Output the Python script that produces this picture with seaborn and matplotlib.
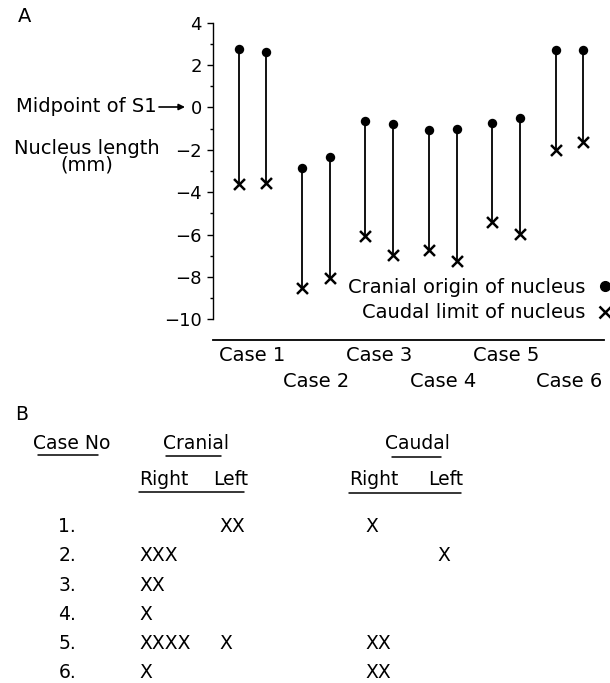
import numpy as np
import pandas as pd
import seaborn as sns
import matplotlib.pyplot as plt
from matplotlib.lines import Line2D

# ---- data (panel A) ----
case_no = [1, 1, 2, 2, 3, 3, 4, 4, 5, 5, 6, 6]
side = [0, 1, 0, 1, 0, 1, 0, 1, 0, 1, 0, 1]
cranial = [2.75, 2.6, -2.84, -2.33, -0.65, -0.76, -1.08, -1.03, -0.72, -0.51, 2.71, 2.71]
caudal = [-3.6, -3.55, -8.5, -8.06, -6.05, -6.96, -6.72, -7.27, -5.39, -5.98, -2.0, -1.61]
case_labels = ["Case 1", "Case 2", "Case 3", "Case 4", "Case 5", "Case 6"]
y_ticks = [4, 2, 0, -2, -4, -6, -8, -10]

# ---- data (panel B) ----
row_labels = ["1.", "2.", "3.", "4.", "5.", "6."]
cranial_right = [0, 3, 2, 1, 4, 1]
cranial_left = [2, 0, 0, 0, 1, 0]
caudal_right = [1, 0, 0, 0, 2, 2]
caudal_left = [0, 1, 0, 0, 0, 0]

df = pd.DataFrame({"case": case_no, "side": side, "cranial": cranial, "caudal": caudal})
df["x"] = df["case"] + (df["side"] - 0.5) * 0.44

sns.set_style("ticks")
plt.rcParams["font.family"] = ["DejaVu Sans"]
plt.rcParams["axes.unicode_minus"] = True
for key in ["text.color", "axes.labelcolor", "xtick.color", "ytick.color", "axes.edgecolor"]:
    plt.rcParams[key] = "black"

W, H = 610, 683
fig = plt.figure(figsize=(W / 100, H / 100), dpi=100)


def fx(px):
    return px / W


def fy(py):
    return 1 - py / H


ax = fig.add_axes([fx(213), fy(319.3), fx(604) - fx(213), fy(22.7) - fy(319.3)])

ax.vlines(df["x"], df["caudal"], df["cranial"], color="black", lw=1.3, zorder=2)
sns.scatterplot(data=df, x="x", y="cranial", marker="o", color="black", s=46,
                linewidth=0, ax=ax, zorder=3, legend=False)
sns.scatterplot(data=df, x="x", y="caudal", marker="x", color="black", s=62,
                linewidth=1.8, ax=ax, zorder=3, legend=False)

ax.set_ylim(-10, 4)
ax.set_xlim(0.377, 6.544)
ax.set_yticks(y_ticks)
ax.set_yticks(np.arange(-9, 4, 2), minor=True)
ax.tick_params(axis="y", which="major", length=4, width=1, labelsize=13, pad=4)
ax.tick_params(axis="y", which="minor", length=2.5, width=1)

ax.set_xticks([1, 3, 5])
ax.set_xticklabels(case_labels[0::2])
ax.set_xticks([2, 4, 6], minor=True)
ax.set_xticklabels(case_labels[1::2], minor=True)
ax.tick_params(axis="x", which="major", length=0, labelsize=14, pad=4.5)
ax.tick_params(axis="x", which="minor", length=0, labelsize=14, pad=23)

ax.set_xlabel("")
ax.set_ylabel("")
sns.despine(ax=ax)
ax.spines["bottom"].set_position(("outward", 15))
ax.spines["bottom"].set_linewidth(1.3)
ax.spines["left"].set_linewidth(1.0)

handles = [
    Line2D([], [], marker="o", color="black", ls="none", markersize=7),
    Line2D([], [], marker="x", color="black", ls="none", markersize=8, mew=1.8),
]
fig.legend(handles, ["Cranial origin of nucleus", "Caudal limit of nucleus"],
           loc="center right", bbox_to_anchor=(fx(615), fy(300)),
           bbox_transform=fig.transFigure, markerfirst=False, frameon=False,
           fontsize=14, handlelength=1.0, handletextpad=0.5, labelspacing=0.35,
           borderpad=0, borderaxespad=0)

# ---- left labels ----
fig.text(fx(25), fy(17), "A", ha="center", va="center", fontsize=14)
fig.text(fx(157), fy(107), "Midpoint of S1", ha="right", va="center", fontsize=14)
fig.add_artist(plt.Annotation("", xy=(fx(185), fy(107)), xytext=(fx(159), fy(107)),
                              xycoords="figure fraction", textcoords="figure fraction",
                              arrowprops=dict(arrowstyle="-|>", color="black", lw=1.2,
                                              mutation_scale=9, shrinkA=0, shrinkB=0)))
fig.text(fx(86.5), fy(157), "Nucleus length\n(mm)", ha="center", va="center",
         fontsize=14, linespacing=0.85, multialignment="center")

# ---- panel B table ----
fs_tab = 13.5
fig.text(fx(15), fy(420.5), "B", ha="left", va="baseline", fontsize=fs_tab)
fig.text(fx(33), fy(449), "Case No", ha="left", va="baseline", fontsize=fs_tab)
fig.text(fx(163), fy(449), "Cranial", ha="left", va="baseline", fontsize=fs_tab)
fig.text(fx(385), fy(449), "Caudal", ha="left", va="baseline", fontsize=fs_tab)
fig.text(fx(139), fy(485), "Right", ha="left", va="baseline", fontsize=fs_tab)
fig.text(fx(213), fy(485), "Left", ha="left", va="baseline", fontsize=fs_tab)
fig.text(fx(349), fy(485), "Right", ha="left", va="baseline", fontsize=fs_tab)
fig.text(fx(428), fy(485), "Left", ha="left", va="baseline", fontsize=fs_tab)

for x0, x1, yy in [(38, 98, 455), (166, 221, 456), (392, 441, 457),
                   (139, 244, 492), (349, 461, 493)]:
    fig.add_artist(Line2D([fx(x0), fx(x1)], [fy(yy), fy(yy)], color="black", lw=1.1,
                          transform=fig.transFigure))

row_base = [531.7, 560.7, 590.7, 620, 649, 678]
col_x = [139, 219, 365, 437]
columns = [cranial_right, cranial_left, caudal_right, caudal_left]
for i, lab in enumerate(row_labels):
    fig.text(fx(76), fy(row_base[i]), lab, ha="right", va="baseline", fontsize=fs_tab)
    for cx, col in zip(col_x, columns):
        if col[i]:
            fig.text(fx(cx), fy(row_base[i]), "X" * col[i], ha="left", va="baseline",
                     fontsize=fs_tab)

fig.savefig("out.png", dpi=100)
